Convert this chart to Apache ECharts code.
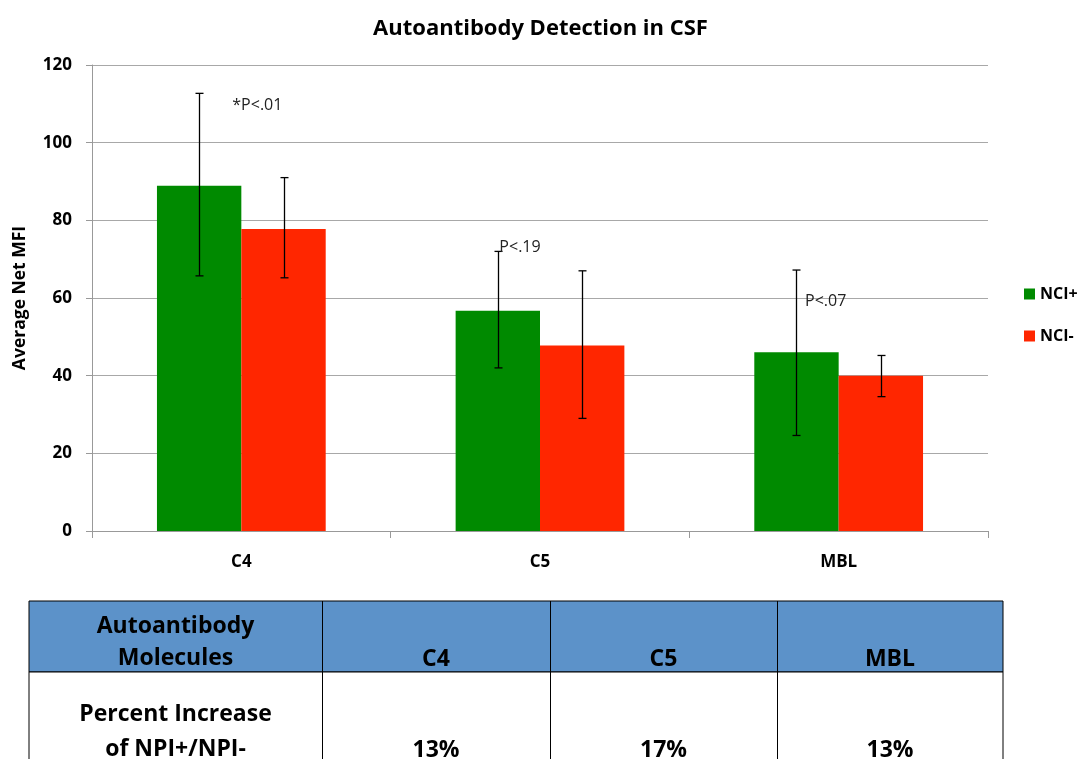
<!DOCTYPE html>
<html>
<head>
<meta charset="utf-8">
<script src="https://cdn.jsdelivr.net/npm/echarts@6/dist/echarts.min.js"></script>
<style>
html,body{margin:0;padding:0;background:#fff;}
#chart{width:1081px;height:759px;}
</style>
</head>
<body>
<div id="chart"></div>
<script>
// ---- data ----
const categories = ['C4', 'C5', 'MBL'];
const seriesNames = ['NCI+', 'NCI-'];
const nciPlus = [88.9, 56.7, 46.0];
const nciMinus = [77.8, 47.8, 40.0];
const nciPlusErrLow = [65.7, 42.0, 24.6];
const nciPlusErrHigh = [112.7, 72.0, 67.2];
const nciMinusErrLow = [65.2, 29.0, 34.6];
const nciMinusErrHigh = [91.0, 67.0, 45.2];
const pLabels = ['*P<.01', 'P<.19', 'P<.07'];
const pLabelValues = [109.5, 73.0, 59.2];
const yTicks = [0, 20, 40, 60, 80, 100, 120];
const tableHeader = ['Autoantibody\nMolecules', 'C4', 'C5', 'MBL'];
const tableRowLabel = 'Percent Increase\nof NPI+/NPI-';
const percentIncrease = ['13%', '17%', '13%'];

// ---- styling ----
const FONT = '"Open Sans", Lato, sans-serif';
const GREEN = '#008a00';
const RED = '#ff2600';
const CAT_GAP = 0.435;
const pLabelDx = [16, -20, -13];

const chart = echarts.init(document.getElementById('chart'));

function errRender(side) {
  return function (params, api) {
    const idx = api.value(0);
    const lo = api.value(1), hi = api.value(2);
    const band = api.size([1, 0])[0];
    const barW = band * (1 - CAT_GAP) / 2;
    const off = side * barW / 2;
    const t = api.coord([idx, hi]);
    const b = api.coord([idx, lo]);
    const x = Math.round(t[0] + off) + 0.5;
    const st = { stroke: '#000', lineWidth: 1.3 };
    return {
      type: 'group',
      children: [
        { type: 'line', shape: { x1: x, y1: t[1], x2: x, y2: b[1] }, style: st },
        { type: 'line', shape: { x1: x - 4, y1: t[1], x2: x + 4, y2: t[1] }, style: st },
        { type: 'line', shape: { x1: x - 4, y1: b[1], x2: x + 4, y2: b[1] }, style: st }
      ]
    };
  };
}

// table graphics
const colEdges = [29, 322, 550, 777, 1003];
const headTop = 601, headBottom = 672, rowBottom = 800;
const tableGraphics = [];
tableGraphics.push({ type: 'rect', shape: { x: colEdges[0], y: headTop, width: colEdges[4] - colEdges[0], height: headBottom - headTop }, style: { fill: '#5c92c9', stroke: '#000', lineWidth: 1 } });
tableGraphics.push({ type: 'rect', shape: { x: colEdges[0], y: headBottom, width: colEdges[4] - colEdges[0], height: rowBottom - headBottom }, style: { fill: '#fff', stroke: '#000', lineWidth: 1 } });
for (let i = 1; i < 4; i++) {
  tableGraphics.push({ type: 'line', shape: { x1: colEdges[i] + 0.5, y1: headTop, x2: colEdges[i] + 0.5, y2: rowBottom }, style: { stroke: '#000', lineWidth: 1 } });
}
const tFont = { fontFamily: FONT, fontWeight: 'bold', fontSize: 23, fill: '#000', align: 'center' };
tableGraphics.push({ type: 'text', x: (colEdges[0] + colEdges[1]) / 2, y: 642, style: Object.assign({}, tFont, { text: tableHeader[0], verticalAlign: 'middle', lineHeight: 32 }) });
for (let i = 1; i < 4; i++) {
  tableGraphics.push({ type: 'text', x: (colEdges[i] + colEdges[i + 1]) / 2, y: 659, style: Object.assign({}, tFont, { text: tableHeader[i], verticalAlign: 'middle' }) });
  tableGraphics.push({ type: 'text', x: (colEdges[i] + colEdges[i + 1]) / 2, y: 750, style: Object.assign({}, tFont, { text: percentIncrease[i - 1], verticalAlign: 'middle' }) });
}
tableGraphics.push({ type: 'text', x: (colEdges[0] + colEdges[1]) / 2, y: 732, style: Object.assign({}, tFont, { text: tableRowLabel, verticalAlign: 'middle', lineHeight: 35 }) });

const option = {
  backgroundColor: '#fff',
  animation: false,
  title: {
    text: 'Autoantibody Detection in CSF',
    left: 'center',
    top: 13,
    textStyle: { fontFamily: FONT, fontWeight: 'bold', fontSize: 22, color: '#000' }
  },
  legend: {
    data: seriesNames,
    orient: 'vertical',
    left: 1019,
    top: 281,
    itemWidth: 11,
    itemHeight: 11,
    itemGap: 26,
    icon: 'rect',
    textStyle: { fontFamily: FONT, fontWeight: 'bold', fontSize: 16, color: '#000', lineHeight: 16 }
  },
  grid: { left: 92, right: 93, top: 65, bottom: 228, containLabel: false },
  xAxis: {
    type: 'category',
    data: categories,
    axisLine: { lineStyle: { color: '#999', width: 1 } },
    axisTick: { show: true, length: 7, lineStyle: { color: '#999' } },
    axisLabel: { fontFamily: FONT, fontWeight: 'bold', fontSize: 17, color: '#000', margin: 23 }
  },
  yAxis: {
    type: 'value',
    min: yTicks[0],
    max: yTicks[yTicks.length - 1],
    interval: yTicks[1] - yTicks[0],
    name: 'Average Net MFI',
    nameLocation: 'middle',
    nameGap: 63,
    nameTextStyle: { fontFamily: FONT, fontWeight: 'bold', fontSize: 17.5, color: '#000' },
    axisLine: { show: true, lineStyle: { color: '#999' } },
    axisTick: { show: true, length: 6, lineStyle: { color: '#999' } },
    axisLabel: { fontFamily: FONT, fontWeight: 'bold', fontSize: 17, color: '#000', margin: 20 },
    splitLine: { lineStyle: { color: '#a8a8a8', width: 1 } }
  },
  series: [
    { name: seriesNames[0], type: 'bar', data: nciPlus, barGap: '0%', barCategoryGap: (CAT_GAP * 100) + '%', itemStyle: { color: GREEN } },
    { name: seriesNames[1], type: 'bar', data: nciMinus, barGap: '0%', barCategoryGap: (CAT_GAP * 100) + '%', itemStyle: { color: RED } },
    {
      type: 'custom', name: 'errPlus', renderItem: errRender(-1), z: 5,
      encode: { x: 0, y: [1, 2] },
      data: categories.map((c, i) => [i, nciPlusErrLow[i], nciPlusErrHigh[i]])
    },
    {
      type: 'custom', name: 'errMinus', renderItem: errRender(1), z: 5,
      encode: { x: 0, y: [1, 2] },
      data: categories.map((c, i) => [i, nciMinusErrLow[i], nciMinusErrHigh[i]])
    },
    {
      type: 'custom', name: 'pvals', z: 6,
      encode: { x: 0, y: 1 },
      renderItem: function (params, api) {
        const i = params.dataIndex;
        const p = api.coord([api.value(0), api.value(1)]);
        return {
          type: 'text', x: p[0] + pLabelDx[i], y: p[1],
          style: { text: pLabels[i], fontFamily: FONT, fontSize: 16, fill: '#222', align: 'center', verticalAlign: 'middle' }
        };
      },
      data: categories.map((c, i) => [i, pLabelValues[i]])
    }
  ],
  graphic: tableGraphics
};
chart.setOption(option);
</script>
</body>
</html>
